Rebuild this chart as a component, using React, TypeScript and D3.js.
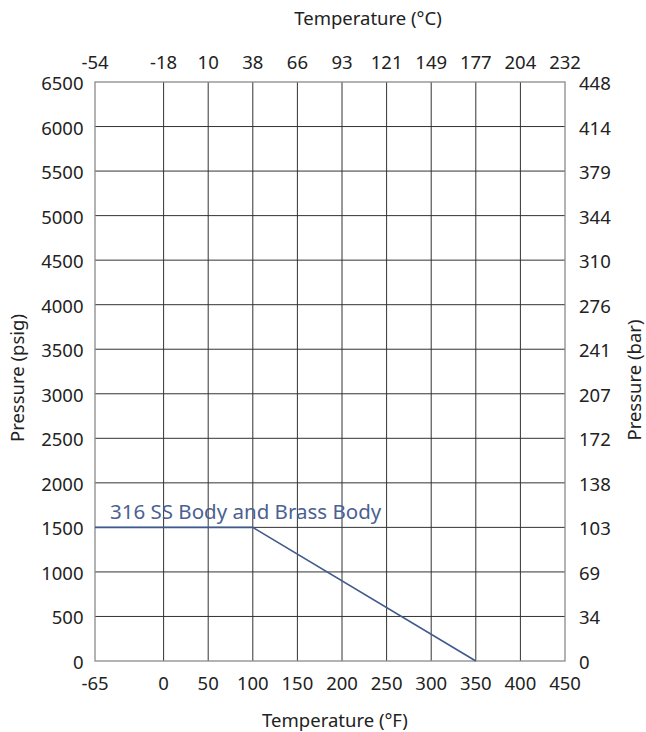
import React from "react";
import * as d3 from "d3";

const fahrenheitTicks = [-65, 0, 50, 100, 150, 200, 250, 300, 350, 400, 450];
const celsiusLabels = ["-54", "-18", "10", "38", "66", "93", "121", "149", "177", "204", "232"];
const psigTicks = [0, 500, 1000, 1500, 2000, 2500, 3000, 3500, 4000, 4500, 5000, 5500, 6000, 6500];
const barLabels = ["0", "34", "69", "103", "138", "172", "207", "241", "276", "310", "344", "379", "414", "448"];
const seriesTemp = [-65, 100, 350];
const seriesPressure = [1500, 1500, 0];
const seriesName = "316 SS Body and Brass Body";

const W = 646;
const H = 732;
const left = 95;
const right = 565;
const top = 82;
const bottom = 661;

export default function App() {
  const x = d3.scaleLinear().domain([-65, 0, 450]).range([left, 163.6, right]);
  const y = d3.scaleLinear().domain([0, 6500]).range([bottom, top]);
  const line = d3
    .line<number>()
    .x((_, i) => x(seriesTemp[i]))
    .y((d) => y(d));
  const font = "'Noto Sans', 'Open Sans', sans-serif";
  const textColor = "#222";
  const lineColor = "#3f5a8c";
  const tickSize = 18.5;
  const titleSize = 18.5;
  return (
    <svg
      width={W}
      height={H}
      style={{ position: "absolute", left: 0, top: 0 }}
      fontFamily={font}
    >
      <rect width={W} height={H} fill="#fff" />
      {psigTicks.slice(1, -1).map((p) => (
        <line key={"h" + p} x1={left} x2={right} y1={y(p)} y2={y(p)} stroke="#333" strokeWidth={1} />
      ))}
      {fahrenheitTicks.slice(1, -1).map((t) => (
        <line key={"v" + t} x1={x(t)} x2={x(t)} y1={top} y2={bottom} stroke="#333" strokeWidth={1} />
      ))}
      <rect x={left} y={top} width={right - left} height={bottom - top} fill="none" stroke="#8a8a8a" strokeWidth={1.3} />
      <path d={line(seriesPressure) || ""} fill="none" stroke={lineColor} strokeWidth={1.6} />
      <text x={110} y={519} fontSize={20.5} fill="#4a6192">
        {seriesName}
      </text>
      {psigTicks.map((p) => (
        <text key={"l" + p} x={83.5} y={y(p) + 1.5} dy="0.35em" textAnchor="end" fontSize={tickSize} fill={textColor}>
          {p}
        </text>
      ))}
      {psigTicks.map((p, i) => (
        <text key={"r" + p} x={579} y={y(p) + 1.5} dy="0.35em" textAnchor="start" fontSize={tickSize} fill={textColor}>
          {barLabels[i]}
        </text>
      ))}
      {fahrenheitTicks.map((t) => (
        <text key={"b" + t} x={x(t)} y={689.5} textAnchor="middle" fontSize={tickSize} fill={textColor}>
          {t}
        </text>
      ))}
      {fahrenheitTicks.map((t, i) => (
        <text key={"t" + t} x={x(t)} y={69} textAnchor="middle" fontSize={tickSize} fill={textColor}>
          {celsiusLabels[i]}
        </text>
      ))}
      <text x={368} y={25} textAnchor="middle" fontSize={titleSize} fill={textColor}>
        Temperature (°C)
      </text>
      <text x={335} y={727} textAnchor="middle" fontSize={titleSize} fill={textColor}>
        Temperature (°F)
      </text>
      <text transform={`translate(24,378) rotate(-90)`} textAnchor="middle" fontSize={titleSize} fill={textColor}>
        Pressure (psig)
      </text>
      <text transform={`translate(640.5,380) rotate(-90)`} textAnchor="middle" fontSize={titleSize} fill={textColor}>
        Pressure (bar)
      </text>
    </svg>
  );
}
